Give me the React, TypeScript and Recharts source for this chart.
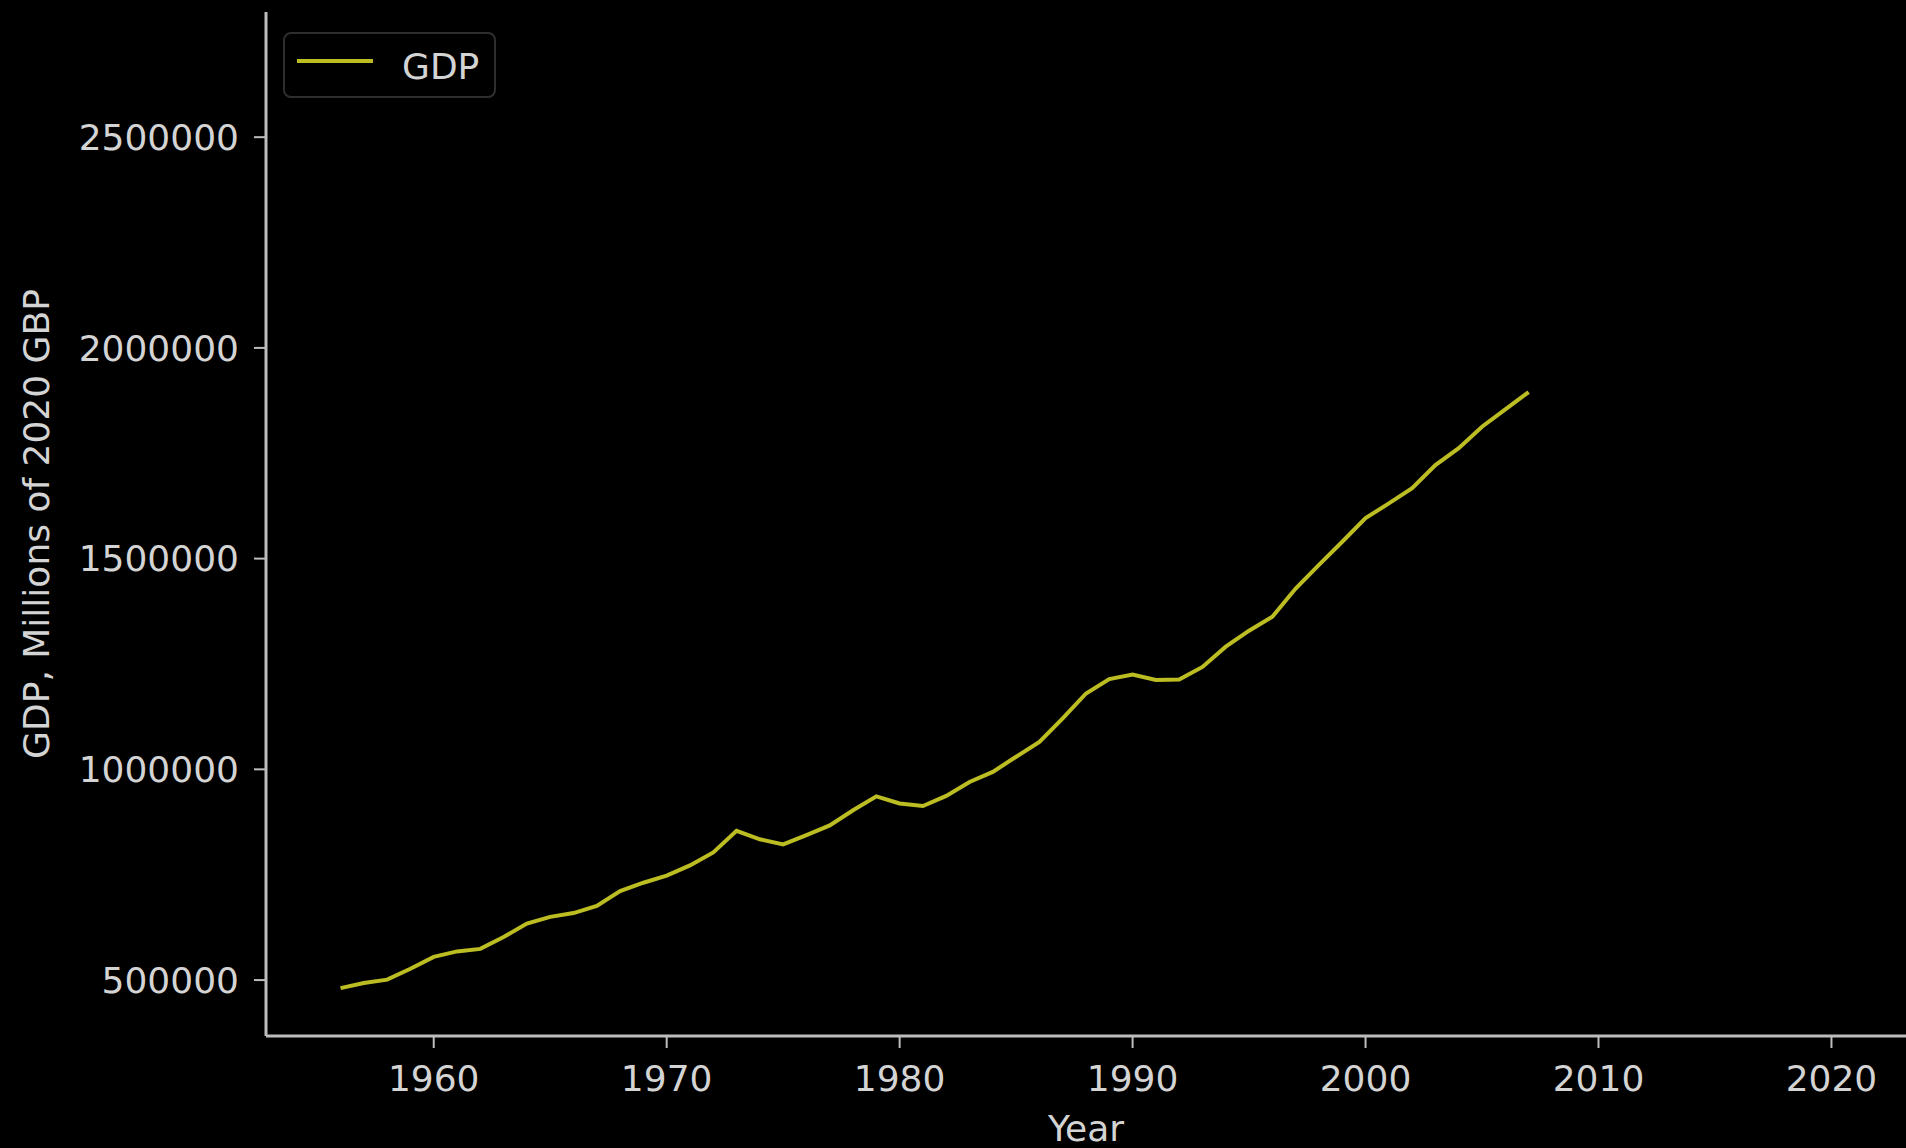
import { LineChart, Line, XAxis, YAxis, Legend } from "recharts"

const years = [
  1956, 1957, 1958, 1959, 1960, 1961, 1962, 1963, 1964, 1965, 1966, 1967, 1968,
  1969, 1970, 1971, 1972, 1973, 1974, 1975, 1976, 1977, 1978, 1979, 1980, 1981,
  1982, 1983, 1984, 1985, 1986, 1987, 1988, 1989, 1990, 1991, 1992, 1993, 1994,
  1995, 1996, 1997, 1998, 1999, 2000, 2001, 2002, 2003, 2004, 2005, 2006, 2007,
]

// GDP, millions of 2020 GBP
const gdp = [
  481000, 493000, 501000, 527000, 555000, 568000, 574000, 602000, 634000, 650000,
  659000, 676000, 711000, 731000, 748000, 772000, 803000, 854000, 834000, 822000,
  844000, 867000, 903000, 936000, 919000, 913000, 937000, 970000, 994000, 1030000,
  1065000, 1121000, 1180000, 1214000, 1225000, 1212000, 1213000, 1243000, 1291000,
  1329000, 1362000, 1429000, 1485000, 1540000, 1596000, 1631000, 1667000, 1722000,
  1762000, 1813000, 1854000, 1895000,
]

const xTicks = [1960, 1970, 1980, 1990, 2000, 2010, 2020]
const yTicks = [500000, 1000000, 1500000, 2000000, 2500000]

const data = years.map((year, i) => ({ year, gdp: gdp[i] }))

const FONT = "'DejaVu Sans', sans-serif"
const TEXT = "#d4d4d4"
const AXIS = "#bdbdbd"
const OLIVE = "#bcbd22"
const FS = 36

function YLabel({ viewBox }: any) {
  const x = viewBox.x + 36
  const y = viewBox.y + viewBox.height / 2
  return (
    <text
      x={x}
      y={y}
      transform={`rotate(-90, ${x}, ${y})`}
      textAnchor="middle"
      dominantBaseline="central"
      fill={TEXT}
      fontSize={FS}
      fontFamily={FONT}
    >
      GDP, Millions of 2020 GBP
    </text>
  )
}

function XLabel({ viewBox }: any) {
  return (
    <text
      x={viewBox.x + viewBox.width / 2}
      y={viewBox.y + 92}
      textAnchor="middle"
      dominantBaseline="central"
      fill={TEXT}
      fontSize={FS}
      fontFamily={FONT}
    >
      Year
    </text>
  )
}

function LegendBox() {
  return (
    <div
      style={{
        boxSizing: "border-box",
        width: 213,
        height: 66,
        border: "2px solid #2e2e2e",
        borderRadius: 8,
        display: "flex",
        alignItems: "center",
        fontFamily: FONT,
      }}
    >
      <svg width={118} height={62} style={{ display: "block" }}>
        <line x1={12} y1={27} x2={88} y2={27} stroke={OLIVE} strokeWidth={4} />
      </svg>
      <span style={{ color: TEXT, fontSize: FS, marginLeft: -1, marginTop: 2 }}>GDP</span>
    </div>
  )
}

export default function App() {
  return (
    <div
      style={{
        position: "absolute",
        left: 0,
        top: 0,
        width: 1906,
        height: 1148,
        background: "#000",
        overflow: "hidden",
      }}
    >
      <LineChart
        width={1906}
        height={1148}
        data={data}
        margin={{ top: 12, right: 0, left: 0, bottom: 0 }}
      >
        <XAxis
          dataKey="year"
          type="number"
          domain={[1952.8, 2023.2]}
          allowDataOverflow
          ticks={xTicks}
          height={112}
          stroke={AXIS}
          strokeWidth={3}
          tickSize={12}
          tickMargin={17}
          tick={{ fill: TEXT, fontSize: FS, fontFamily: FONT }}
          tickLine={{ stroke: AXIS, strokeWidth: 2 }}
          label={XLabel}
        />
        <YAxis
          type="number"
          domain={[367300, 2797000]}
          allowDataOverflow
          ticks={yTicks}
          width={266}
          stroke={AXIS}
          strokeWidth={3}
          tickSize={12}
          tickMargin={15}
          tick={{ fill: TEXT, fontSize: FS, fontFamily: FONT }}
          tickLine={{ stroke: AXIS, strokeWidth: 2 }}
          label={YLabel}
        />
        <Legend
          layout="horizontal"
          verticalAlign="middle"
          align="center"
          content={LegendBox}
          wrapperStyle={{ top: 32, left: 283, width: 213 }}
        />
        <Line
          type="linear"
          dataKey="gdp"
          name="GDP"
          stroke={OLIVE}
          strokeWidth={4}
          dot={false}
          isAnimationActive={false}
        />
      </LineChart>
    </div>
  )
}
